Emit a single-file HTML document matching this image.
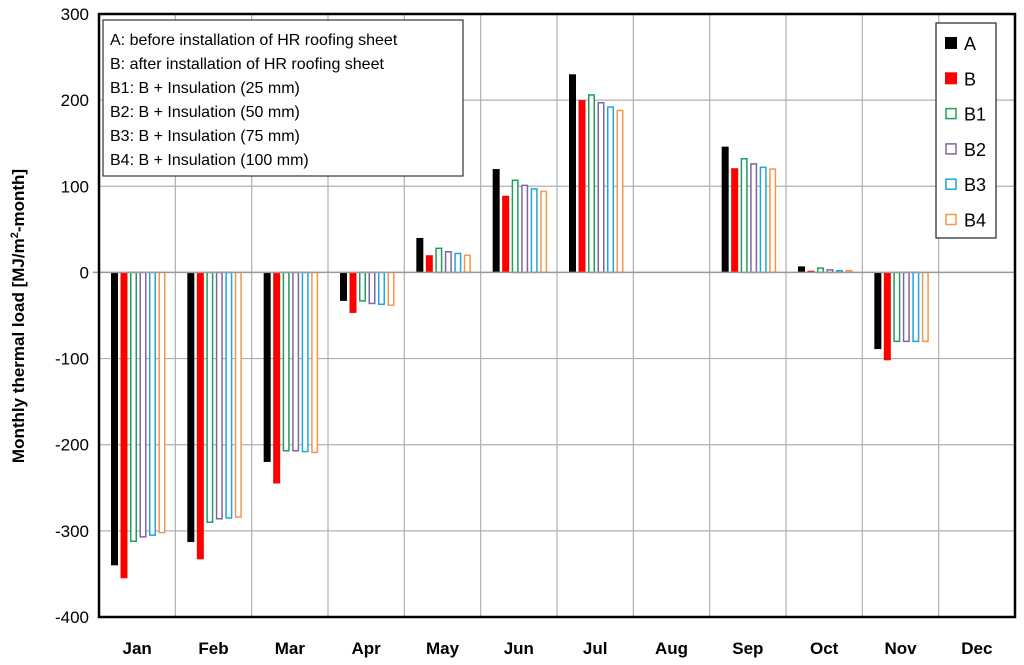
<!DOCTYPE html>
<html><head><meta charset="utf-8"><style>
body{margin:0;background:#fff;font-family:"Liberation Sans",sans-serif}
svg text{font-family:"Liberation Sans",sans-serif}
</style></head><body>
<svg id="c" width="1024" height="660">
</svg>
<script>
const months=["Jan","Feb","Mar","Apr","May","Jun","Jul","Aug","Sep","Oct","Nov","Dec"];
const seriesNames=["A","B","B1","B2","B3","B4"];
const valsA=[-340,-313,-220,-33,40,120,230,0,146,7,-89,0];
const valsB=[-355,-333,-245,-47,20,89,200,0,121,2,-102,0];
const valsB1=[-312,-290,-207,-33,28,107,206,0,132,5,-80,0];
const valsB2=[-307,-286,-207,-36,24,101,197,0,126,3,-80,0];
const valsB3=[-305,-285,-208,-37,22,97,192,0,122,2,-80,0];
const valsB4=[-302,-284,-209,-38,20,94,188,0,120,2,-80,0];
const yTicks=[300,200,100,0,-100,-200,-300,-400];
const series=[valsA,valsB,valsB1,valsB2,valsB3,valsB4];
const colors=["#000","#ff0000","#1f9e5a","#8064a2","#1ea7d8","#f79646"];
const filled=[true,true,false,false,false,false];
const svg=document.getElementById('c');
const NS='http://www.w3.org/2000/svg';
const L=99,R=1015,T=14,B=617;
const y=v=>T+(300-v)*(B-T)/700;
const colW=(R-L)/12;
function mk(tag,attrs,parent){const e=document.createElementNS(NS,tag);for(const k in attrs)e.setAttribute(k,attrs[k]);(parent||svg).appendChild(e);return e;}
yTicks.forEach(t=>{
 const g=mk('line',{x1:L,x2:R,y1:y(t),y2:y(t),stroke:'#b0b0b0','stroke-width':1.2});
 
 
 const tx=mk('text',{x:L-10,y:y(t)+6,'text-anchor':'end','font-size':17,fill:'#000'});
 tx.textContent=t;
 
 
});
months.forEach((m,i)=>{
 if(i>0){const g=mk('line',{x1:L+i*colW,x2:L+i*colW,y1:T,y2:B,stroke:'#b0b0b0','stroke-width':1.2});
 
 }
 const tx=mk('text',{x:L+(i+0.5)*colW,y:654,'text-anchor':'middle','font-size':17,'font-weight':'bold'});
 tx.textContent=m;
 
 
});
series.forEach((vals,s)=>{
 vals.forEach((v,i)=>{
  if(v===0)return;
  const x=L+i*colW+12+s*9.5;
  const y0=y(0),y1=y(v);
  const top=Math.min(y0,y1),h=Math.abs(y1-y0);
  const r=filled[s]?mk('rect',{x:x,y:top,width:7,height:h,fill:colors[s]}):
   mk('rect',{x:x+0.75,y:top,width:5.5,height:h,fill:'#fff',stroke:colors[s],'stroke-width':1.5});
  
  
 });
});
const z=mk('line',{x1:L-6,x2:R,y1:y(0),y2:y(0),stroke:'#999','stroke-width':1.5});


const fr=mk('rect',{x:L,y:T,width:R-L,height:B-T,fill:'none',stroke:'#000','stroke-width':2.5});


const yt=mk('text',{x:0,y:0,transform:'translate(24,316) rotate(-90)','text-anchor':'middle','font-size':17,'font-weight':'bold'});
yt.innerHTML='Monthly thermal load [MJ/m<tspan font-size="11" dy="-6">2</tspan><tspan dy="6">-month]</tspan>';


const nb=mk('rect',{x:103,y:20,width:360,height:156,fill:'#fff',stroke:'#333','stroke-width':1.2});


const notes=["A: before installation of HR roofing sheet","B: after installation of HR roofing sheet","B1: B + Insulation (25 mm)","B2: B + Insulation (50 mm)","B3: B + Insulation (75 mm)","B4: B + Insulation (100 mm)"];
notes.forEach((n,i)=>{const t=mk('text',{x:110,y:45+i*24,'font-size':16});t.textContent=n;
 
 });
const lb=mk('rect',{x:936,y:23,width:60,height:215,fill:'#fff',stroke:'#222','stroke-width':1.2});


seriesNames.forEach((n,s)=>{
 const cy=43+s*35.3;
 const sw=filled[s]?mk('rect',{x:945,y:cy-6,width:12,height:12,fill:colors[s]}):
  mk('rect',{x:946,y:cy-5,width:10,height:10,fill:'#fff',stroke:colors[s],'stroke-width':1.5});
 
 
 const t=mk('text',{x:964,y:cy+7,'font-size':18});t.textContent=n;
 
 
});
</script>
</body></html>
